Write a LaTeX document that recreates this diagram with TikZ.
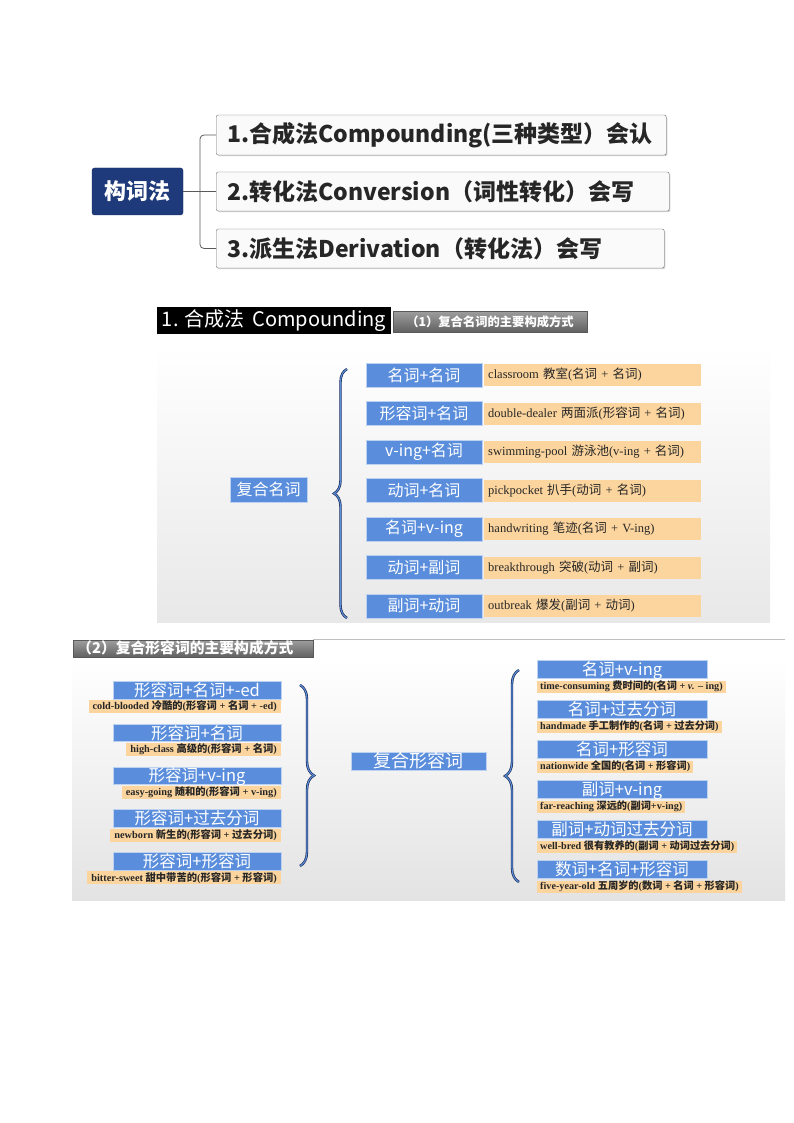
\documentclass[tikz,border=0pt]{standalone}
\usepackage{fontspec}
\setmainfont{Liberation Serif}
\newfontfamily\cjk{Noto Sans CJK SC}
\usetikzlibrary{decorations.pathreplacing,shadows}
\definecolor{bluebox}{RGB}{90,142,220}
\definecolor{peach}{RGB}{252,213,158}
\definecolor{navy}{RGB}{30,58,122}
\definecolor{bracedark}{RGB}{25,38,80}
\newcommand\zhc[1]{{\cjk #1}}
\newcommand\fsz[1]{\fontsize{#1}{#1}\selectfont}
\tikzset{
  topbox/.style={draw=black!55, fill=black!2, rounded corners=2pt, anchor=west, align=left,
    inner xsep=11pt, inner ysep=0pt, minimum height=40pt, text=black!85,
    font=\cjk\bfseries\fsz{23}, drop shadow={shadow xshift=1.2pt, shadow yshift=-1.2pt, opacity=0.35}},
  rootbox/.style={fill=navy, draw=navy!80!black, rounded corners=2.5pt, text=white,
    font=\cjk\bfseries\fsz{22}, minimum width=91pt, minimum height=47pt, inner sep=0pt},
  conn/.style={draw=black!65, line width=0.8pt},
  bluenode/.style={fill=bluebox, draw=white!60!bluebox, line width=0.4pt, text=white, inner sep=0pt},
  peachnode/.style={fill=peach, inner sep=0pt, text=black!85},
  tight/.style={text height=#1, text depth=1pt},
  bracedraw/.style={decorate, draw=bracedark, line width=2.4pt},
  braceblue/.style={decorate, draw=bluebox, line width=1.1pt},
  grayhead/.style={top color=black!38, bottom color=black!62, draw=black!65, line width=0.4pt,
    text=white, inner sep=0pt},
}
\begin{document}
\begin{tikzpicture}[x=1pt,y=-1pt]
\fill[white] (0,0) rectangle (794,1123);
\useasboundingbox (0,0) rectangle (794,1123);

% ---------- top mind map ----------
\node[rootbox] (root) at (137.5,191.5) {构词法};
\node[topbox, minimum width=450pt, text width=428pt] (t1) at (216,135) {1.合成法Compounding(三种类型）会认};
\node[topbox, minimum width=453pt, minimum height=39pt, text width=431pt] (t2) at (216,191.5) {2.转化法Conversion（词性转化）会写};
\node[topbox, minimum width=448pt, minimum height=39pt, text width=426pt] (t3) at (216,248.5) {3.派生法Derivation（转化法）会写};
\draw[conn] (root.east) -- (t2.west);
\draw[conn, rounded corners=4pt] (t1.west) -- ++(-16,0) |- (t3.west);

% ---------- section 1 ----------
\node[fill=black, text=white, font=\cjk\fsz{20}, minimum width=234pt, minimum height=27pt, inner sep=0pt] (title1) at (274,320.5) {1. 合成法 \,Compounding};
\node[grayhead, font=\cjk\bfseries\fsz{12.3}, minimum width=194pt, minimum height=21pt] (head1) at (490,321.5) {（1）复合名词的主要构成方式};

\shade[top color=white, bottom color=black!9] (157,347) rectangle (770,622);

\node[bluenode, font=\cjk\fsz{16}, minimum width=77pt, minimum height=25pt] (cn) at (268.5,489.5) {复合名词};

\draw[bracedraw, decoration={brace, amplitude=13pt}] (347,618) -- (347,369);
\draw[braceblue, decoration={brace, amplitude=13pt}] (347,618) -- (347,369);

\foreach \i/\a/\b in {
 1/{名词+名词}/{classroom \zhc{教室}(\zhc{名词} + \zhc{名词})},
 2/{形容词+名词}/{double-dealer \zhc{两面派}(\zhc{形容词} + \zhc{名词})},
 3/{v-ing+名词}/{swimming-pool \zhc{游泳池}(v-ing + \zhc{名词})},
 4/{动词+名词}/{pickpocket \zhc{扒手}(\zhc{动词} + \zhc{名词})},
 5/{名词+v-ing}/{handwriting \zhc{笔迹}(\zhc{名词} + V-ing)},
 6/{动词+副词}/{breakthrough \zhc{突破}(\zhc{动词} + \zhc{副词})},
 7/{副词+动词}/{outbreak \zhc{爆发}(\zhc{副词} + \zhc{动词})}} {
  \pgfmathsetmacro{\yc}{375+38.5*(\i-1)}
  \node[bluenode, font=\cjk\fsz{16}, minimum width=116pt, minimum height=24pt] (nb\i) at (424,\yc) {\a};
  \node[peachnode, anchor=west, font=\fsz{12.5}, minimum width=217pt, minimum height=22pt,
        text width=209pt, inner xsep=4pt, align=left] (np\i) at (484,\yc) {\b};
}

% ---------- section 2 ----------
\draw[black!25, line width=0.6pt] (313,639.5) -- (785,639.5);
\shade[top color=white, bottom color=black!11] (72,658) rectangle (785,900);
\node[grayhead, font=\cjk\bfseries\fsz{14.8}, tight=11.5pt, minimum width=240pt, minimum height=17pt, anchor=west,
      text width=232pt, inner xsep=4pt, align=left] (head2) at (73,648.5) {（2）复合形容词的主要构成方式};

\node[bluenode, font=\cjk\fsz{18}, tight=14.6pt, minimum width=135pt, minimum height=18pt] (ca) at (418.5,761) {复合形容词};

\draw[bracedraw, decoration={brace, amplitude=14pt}] (300,685) -- (300,866);
\draw[braceblue, decoration={brace, amplitude=14pt}] (300,685) -- (300,866);
\draw[bracedraw, decoration={brace, amplitude=14pt}] (519,882) -- (519,670);
\draw[braceblue, decoration={brace, amplitude=14pt}] (519,882) -- (519,670);

\foreach \i/\a/\b in {
 1/{形容词+名词+-ed}/{cold-blooded \zhc{冷酷的}(\zhc{形容词} + \zhc{名词} + -ed)},
 2/{形容词+名词}/{high-class \zhc{高级的}(\zhc{形容词} + \zhc{名词})},
 3/{形容词+v-ing}/{easy-going \zhc{随和的}(\zhc{形容词} + v-ing)},
 4/{形容词+过去分词}/{newborn \zhc{新生的}(\zhc{形容词} + \zhc{过去分词})},
 5/{形容词+形容词}/{bitter-sweet \zhc{甜中带苦的}(\zhc{形容词} + \zhc{形容词})}} {
  \pgfmathsetmacro{\yc}{690+42.8*(\i-1)}
  \pgfmathsetmacro{\yp}{\yc+10}
  \node[bluenode, font=\cjk\fsz{16.5}, tight=13.4pt, minimum width=168pt, minimum height=17.5pt] (lb\i) at (197,\yc) {\a};
  \node[peachnode, anchor=north east, font=\bfseries\fsz{10.3}, tight=7.5pt, minimum height=13pt, inner xsep=4pt] (lp\i) at (281,\yp) {\b};
}

\foreach \i/\a/\b in {
 1/{名词+v-ing}/{time-consuming \zhc{费时间的}(\zhc{名词} + \textit{v.} -- ing)},
 2/{名词+过去分词}/{handmade \zhc{手工制作的}(\zhc{名词} + \zhc{过去分词})},
 3/{名词+形容词}/{nationwide \zhc{全国的}(\zhc{名词} + \zhc{形容词})},
 4/{副词+v-ing}/{far-reaching \zhc{深远的}(\zhc{副词}+v-ing)},
 5/{副词+动词过去分词}/{well-bred \zhc{很有教养的}(\zhc{副词} + \zhc{动词过去分词})},
 6/{数词+名词+形容词}/{five-year-old \zhc{五周岁的}(\zhc{数词} + \zhc{名词} + \zhc{形容词})}} {
  \pgfmathsetmacro{\yc}{669.5+40*(\i-1)}
  \pgfmathsetmacro{\yp}{\yc+11}
  \node[bluenode, font=\cjk\fsz{16.5}, tight=13.4pt, minimum width=170pt, minimum height=18pt] (rb\i) at (622,\yc) {\a};
  \node[peachnode, anchor=north west, font=\bfseries\fsz{10.2}, tight=7.5pt, minimum height=12pt, inner xsep=3pt] (rp\i) at (537,\yp) {\b};
}
\end{tikzpicture}
\end{document}
